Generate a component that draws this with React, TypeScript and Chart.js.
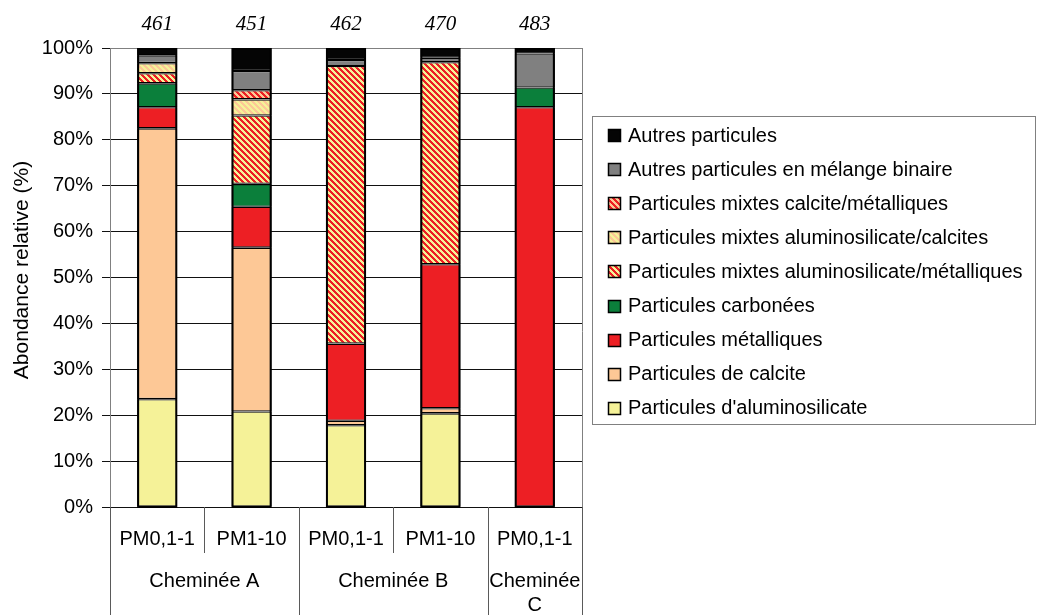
import React, { useEffect, useRef } from "react";
import { Chart, registerables } from "chart.js";

Chart.register(...registerables);

// ---- data ----
const subLabels = ["PM0,1-1", "PM1-10", "PM0,1-1", "PM1-10", "PM0,1-1"];
const groupLabels = [
  { lines: ["Cheminée A"], from: 0, to: 1 },
  { lines: ["Cheminée B"], from: 2, to: 3 },
  { lines: ["Cheminée", "C"], from: 4, to: 4 },
];
const counts = ["461", "451", "462", "470", "483"];
const yTicks = [0, 10, 20, 30, 40, 50, 60, 70, 80, 90, 100];

const alumino = [23.5, 20.8, 17.8, 20.4, 0];
const calcite = [59.0, 35.7, 1.0, 1.1, 0];
const metalliques = [4.6, 8.9, 16.8, 31.4, 87.1];
const carbonees = [5.2, 5.0, 0, 0, 4.3];
const mixAlMet = [2.2, 14.9, 60.5, 44.0, 0];
const mixAlCa = [2.2, 3.5, 0, 0, 0];
const mixCaMet = [0, 2.0, 0, 0, 0];
const autresBinaire = [1.7, 4.2, 1.3, 1.0, 7.4];
const autres = [1.6, 5.0, 2.6, 2.1, 1.2];

// ---- styles ----
const RED = "#ED1F24";
const YELLOW = "#F5F298";
const PEACH = "#FDC896";
const GREEN = "#0B7F3B";
const GRAY = "#808080";
const BLACK = "#050505";
const FONT = "'Liberation Sans', Arial, sans-serif";

function makePattern(a: string, b: string): CanvasPattern | string {
  const N = 6;
  const c = document.createElement("canvas");
  c.width = N;
  c.height = N;
  const g = c.getContext("2d");
  if (!g) return a;
  for (let y = 0; y < N; y++) {
    for (let x = 0; x < N; x++) {
      const k = (((x - y) % N) + N) % N;
      g.fillStyle = k < 3 ? a : b;
      g.fillRect(x, y, 1, 1);
    }
  }
  const ctx = document.createElement("canvas").getContext("2d");
  return (ctx && ctx.createPattern(c, "repeat")) || a;
}

export default function App() {
  const ref = useRef<HTMLCanvasElement | null>(null);

  useEffect(() => {
    if (!ref.current) return;
    const pAlMet = makePattern(RED, YELLOW);
    const pAlCa = makePattern(PEACH, YELLOW);
    const pCaMet = makePattern(RED, PEACH);

    const series = [
      { label: "Particules d'aluminosilicate", data: alumino, bg: YELLOW },
      { label: "Particules de calcite", data: calcite, bg: PEACH },
      { label: "Particules métalliques", data: metalliques, bg: RED },
      { label: "Particules carbonées", data: carbonees, bg: GREEN },
      { label: "Particules mixtes aluminosilicate/métalliques", data: mixAlMet, bg: pAlMet },
      { label: "Particules mixtes aluminosilicate/calcites", data: mixAlCa, bg: pAlCa },
      { label: "Particules mixtes calcite/métalliques", data: mixCaMet, bg: pCaMet },
      { label: "Autres particules en mélange binaire", data: autresBinaire, bg: GRAY },
      { label: "Autres particules", data: autres, bg: BLACK },
    ];

    const decor = {
      id: "decor",
      afterDatasetsDraw(chart: any) {
        // outline each full stacked bar
        const ctx = chart.ctx as CanvasRenderingContext2D;
        const yScale = chart.scales.y;
        const first = chart.getDatasetMeta(0);
        ctx.save();
        ctx.strokeStyle = "#000";
        ctx.lineWidth = 2;
        first.data.forEach((el: any, i: number) => {
          let total = 0;
          chart.data.datasets.forEach((ds: any) => (total += Number(ds.data[i]) || 0));
          const top = yScale.getPixelForValue(total);
          const bottom = yScale.getPixelForValue(0);
          const w = el.width;
          ctx.strokeRect(el.x - w / 2 + 1, top + 1, w - 2, bottom - top - 1);
        });
        ctx.restore();
      },
      afterDraw(chart: any) {
        const ctx = chart.ctx as CanvasRenderingContext2D;
        const area = chart.chartArea;
        const xs = chart.scales.x;
        const n = subLabels.length;
        const step = (area.right - area.left) / n;
        const cx = (i: number) => xs.getPixelForValue(i);
        const bottomY = 615;
        ctx.save();

        // plot frame (right) in gray
        ctx.strokeStyle = GRAY;
        ctx.lineWidth = 1;
        ctx.beginPath();
        ctx.moveTo(Math.round(area.right) + 0.5, area.top);
        ctx.lineTo(Math.round(area.right) + 0.5, bottomY);
        ctx.stroke();

        // category separators below the axis
        ctx.strokeStyle = "#5a5a5a";
        const groupEdges = new Set<number>();
        groupLabels.forEach((g) => {
          groupEdges.add(g.from);
          groupEdges.add(g.to + 1);
        });
        for (let i = 0; i <= n; i++) {
          const x = Math.round(area.left + i * step) + 0.5;
          const full = groupEdges.has(i);
          ctx.beginPath();
          ctx.moveTo(x, area.bottom);
          ctx.lineTo(x, full ? bottomY : area.bottom + 46);
          ctx.stroke();
        }

        // sub labels
        ctx.fillStyle = "#000";
        ctx.font = `20px ${FONT}`;
        ctx.textAlign = "center";
        ctx.textBaseline = "middle";
        subLabels.forEach((s, i) => ctx.fillText(s, cx(i), area.bottom + 32));

        // group labels
        groupLabels.forEach((g) => {
          const x = (cx(g.from) + cx(g.to)) / 2;
          g.lines.forEach((t, j) => ctx.fillText(t, x, area.bottom + 74 + j * 24));
        });

        // counts above bars
        ctx.font = `italic 21px 'Liberation Serif', 'Times New Roman', serif`;
        counts.forEach((c, i) => ctx.fillText(c, cx(i), 24));

        // y title
        ctx.save();
        ctx.translate(22, 270);
        ctx.rotate(-Math.PI / 2);
        ctx.font = `21px ${FONT}`;
        ctx.fillText("Abondance relative (%)", 0, 0);
        ctx.restore();

        // legend
        const lx = 592.5, ly = 116.5, lw = 443, lh = 308;
        ctx.strokeStyle = GRAY;
        ctx.lineWidth = 1;
        ctx.strokeRect(lx, ly, lw, lh);
        const items = chart.data.datasets.slice().reverse();
        ctx.font = `20px ${FONT}`;
        ctx.textAlign = "left";
        items.forEach((ds: any, k: number) => {
          const y = 135 + k * 34.1;
          ctx.fillStyle = ds.backgroundColor;
          ctx.fillRect(608, Math.round(y - 6), 13, 13);
          ctx.strokeStyle = "#000";
          ctx.lineWidth = 1.5;
          ctx.strokeRect(608.5, Math.round(y - 6) + 0.5, 12, 12);
          ctx.fillStyle = "#000";
          ctx.fillText(ds.label, 628, y + 1);
        });
        ctx.restore();
      },
    };

    const chart = new Chart(ref.current, {
      type: "bar",
      data: {
        labels: subLabels,
        datasets: series.map((s) => ({
          label: s.label,
          data: s.data,
          backgroundColor: s.bg as any,
          borderColor: "#000",
          borderWidth: 1.3,
          borderSkipped: false,
          barPercentage: 0.425,
          categoryPercentage: 1,
        })),
      },
      options: {
        responsive: false,
        animation: false,
        devicePixelRatio: 1,
        layout: { padding: { left: 0, top: 48, right: 1037 - 582, bottom: 615 - 507 } },
        plugins: { legend: { display: false }, tooltip: { enabled: false } },
        scales: {
          x: { stacked: true, display: false },
          y: {
            stacked: true,
            min: 0,
            max: 100,
            afterFit: (s: any) => {
              s.width = 110;
            },
            afterBuildTicks: (s: any) => {
              s.ticks = yTicks.map((v) => ({ value: v }));
            },
            ticks: {
              callback: (v: any) => `${v}%`,
              font: { family: FONT, size: 20 },
              color: "#000",
              padding: 9,
            },
            grid: {
              color: (c: any) => (c.tick && c.tick.value === 100 ? GRAY : "#111"),
              lineWidth: 1,
              tickLength: 8,
              tickColor: "#111",
            },
            border: { display: true, color: GRAY, width: 1 },
          },
        },
      },
      plugins: [decor],
    });
    return () => chart.destroy();
  }, []);

  return (
    <div style={{ position: "absolute", left: 0, top: 0, width: 1037, height: 615, background: "#fff" }}>
      <canvas ref={ref} width={1037} height={615} style={{ display: "block" }} />
    </div>
  );
}
